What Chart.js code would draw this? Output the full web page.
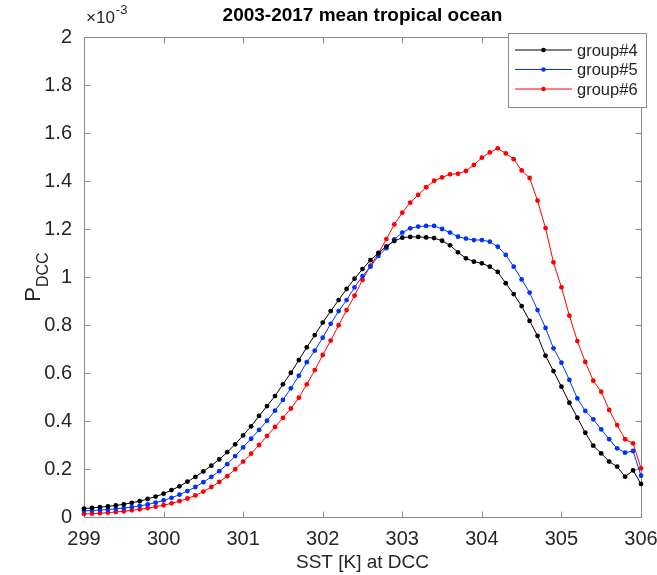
<!DOCTYPE html>
<html>
<head>
<meta charset="utf-8">
<script src="https://cdn.jsdelivr.net/npm/chart.js@4.4.1/dist/chart.umd.min.js"></script>
<style>
  body { margin: 0; background: #fff; }
  #wrap { width: 657px; height: 575px; }
</style>
</head>
<body>
<div id="wrap"><canvas id="pdfChart" width="657" height="575"></canvas></div>
<script>
// SST bins [K]
const sst = [
  299.0, 299.1, 299.2, 299.3, 299.4, 299.5, 299.6, 299.7, 299.8, 299.9,
  300.0, 300.1, 300.2, 300.3, 300.4, 300.5, 300.6, 300.7, 300.8, 300.9,
  301.0, 301.1, 301.2, 301.3, 301.4, 301.5, 301.6, 301.7, 301.8, 301.9,
  302.0, 302.1, 302.2, 302.3, 302.4, 302.5, 302.6, 302.7, 302.8, 302.9,
  303.0, 303.1, 303.2, 303.3, 303.4, 303.5, 303.6, 303.7, 303.8, 303.9,
  304.0, 304.1, 304.2, 304.3, 304.4, 304.5, 304.6, 304.7, 304.8, 304.9,
  305.0, 305.1, 305.2, 305.3, 305.4, 305.5, 305.6, 305.7, 305.8, 305.9,
  306.0
];

// P_DCC, in units of 1e-3
const group4 = [
  0.035, 0.038, 0.041, 0.044, 0.048, 0.053, 0.059, 0.066, 0.075, 0.085,
  0.097, 0.112, 0.128, 0.147, 0.167, 0.190, 0.214, 0.240, 0.270, 0.303,
  0.340, 0.378, 0.421, 0.462, 0.504, 0.553, 0.601, 0.654, 0.707, 0.758,
  0.810, 0.858, 0.904, 0.950, 0.993, 1.033, 1.070, 1.100, 1.128, 1.150,
  1.164, 1.167, 1.167, 1.165, 1.162, 1.151, 1.132, 1.103, 1.078, 1.064,
  1.057, 1.043, 1.021, 0.974, 0.929, 0.879, 0.817, 0.755, 0.672, 0.608,
  0.543, 0.476, 0.414, 0.351, 0.297, 0.265, 0.231, 0.210, 0.168, 0.194,
  0.138
];
const group5 = [
  0.026, 0.027, 0.029, 0.031, 0.034, 0.037, 0.041, 0.046, 0.052, 0.060,
  0.069, 0.080, 0.093, 0.108, 0.125, 0.145, 0.167, 0.191, 0.220, 0.254,
  0.290, 0.326, 0.363, 0.401, 0.443, 0.488, 0.536, 0.589, 0.645, 0.693,
  0.747, 0.805, 0.858, 0.904, 0.957, 1.004, 1.043, 1.088, 1.120, 1.157,
  1.185, 1.203, 1.210, 1.213, 1.213, 1.200, 1.185, 1.168, 1.160, 1.154,
  1.154, 1.147, 1.126, 1.092, 1.043, 0.990, 0.935, 0.862, 0.788, 0.703,
  0.643, 0.571, 0.494, 0.442, 0.407, 0.365, 0.324, 0.286, 0.268, 0.275,
  0.172
];
const group6 = [
  0.013, 0.014, 0.016, 0.018, 0.021, 0.024, 0.028, 0.032, 0.037, 0.043,
  0.049, 0.057, 0.066, 0.077, 0.090, 0.106, 0.125, 0.146, 0.170, 0.199,
  0.231, 0.264, 0.300, 0.338, 0.375, 0.413, 0.452, 0.497, 0.553, 0.612,
  0.675, 0.735, 0.799, 0.862, 0.922, 0.988, 1.047, 1.099, 1.158, 1.219,
  1.268, 1.310, 1.342, 1.374, 1.401, 1.415, 1.428, 1.430, 1.442, 1.467,
  1.497, 1.519, 1.536, 1.515, 1.491, 1.444, 1.413, 1.318, 1.204, 1.061,
  0.957, 0.839, 0.733, 0.646, 0.568, 0.522, 0.446, 0.383, 0.324, 0.307,
  0.203
];

const seriesNames = ['group#4', 'group#5', 'group#6'];
const seriesValues = [group4, group5, group6];
const seriesColors = ['#000000', '#0033ff', '#ff0000'];

const xTicks = [299, 300, 301, 302, 303, 304, 305, 306];
const yTicks = [0, 0.2, 0.4, 0.6, 0.8, 1, 1.2, 1.4, 1.6, 1.8, 2];

const FONT = "'Liberation Sans', Arial, sans-serif";
const TEXT = '#262626';
const AXIS = '#8a8a8a';

// box, inward ticks on all four sides
const framePlugin = {
  id: 'frame',
  beforeDatasetsDraw(chart) {
    const { ctx, chartArea: a, scales } = chart;
    const L = Math.round(a.left) + 0.5, R = Math.round(a.right) + 0.5;
    const T = Math.round(a.top) + 0.5, B = Math.round(a.bottom) + 0.5;
    const len = 6;
    ctx.save();
    ctx.strokeStyle = AXIS;
    ctx.lineWidth = 1;
    ctx.strokeRect(L, T, R - L, B - T);
    ctx.beginPath();
    scales.x.ticks.forEach(t => {
      const px = Math.round(scales.x.getPixelForValue(t.value)) + 0.5;
      ctx.moveTo(px, B); ctx.lineTo(px, B - len);
      ctx.moveTo(px, T); ctx.lineTo(px, T + len);
    });
    scales.y.ticks.forEach(t => {
      const py = Math.round(scales.y.getPixelForValue(t.value)) + 0.5;
      ctx.moveTo(L, py); ctx.lineTo(L + len, py);
      ctx.moveTo(R, py); ctx.lineTo(R - len, py);
    });
    ctx.stroke();
    ctx.restore();
  }
};

// title, exponent, y label, legend
const labelsPlugin = {
  id: 'labels',
  afterDraw(chart) {
    const { ctx, chartArea: a } = chart;
    ctx.save();
    ctx.fillStyle = '#000';
    ctx.textBaseline = 'alphabetic';

    // title
    ctx.font = `bold 19px ${FONT}`;
    ctx.textAlign = 'center';
    ctx.fillText('2003-2017 mean tropical ocean', (a.left + a.right) / 2, 21);

    // x10^-3
    ctx.fillStyle = TEXT;
    ctx.textAlign = 'left';
    ctx.font = `17px ${FONT}`;
    ctx.fillText('\u00d710', a.left + 2, 23);
    const w10 = ctx.measureText('\u00d710').width;
    ctx.font = `13px ${FONT}`;
    ctx.fillText('-3', a.left + 2 + w10 + 1, 14);

    // y label P_DCC
    ctx.save();
    ctx.translate(40, (a.top + a.bottom) / 2);
    ctx.rotate(-Math.PI / 2);
    ctx.font = `22px ${FONT}`;
    const wP = ctx.measureText('P').width;
    ctx.font = `16px ${FONT}`;
    const wD = ctx.measureText('DCC').width;
    const x0 = -(wP + wD) / 2;
    ctx.font = `22px ${FONT}`;
    ctx.fillText('P', x0, 0);
    ctx.font = `16px ${FONT}`;
    ctx.fillText('DCC', x0 + wP, 8);
    ctx.restore();

    // legend
    const bx = a.right - 133, by = a.top - 4, bw = 138, bh = 74;
    ctx.fillStyle = '#fff';
    ctx.fillRect(bx, by, bw, bh);
    ctx.strokeStyle = AXIS;
    ctx.lineWidth = 1;
    ctx.strokeRect(Math.round(bx) + 0.5, Math.round(by) + 0.5, bw, bh);
    ctx.font = `16.5px ${FONT}`;
    ctx.textBaseline = 'middle';
    chart.data.datasets.forEach((ds, i) => {
      const y = by + 17 + i * 19.5;
      ctx.strokeStyle = ds.borderColor;
      ctx.beginPath();
      ctx.moveTo(bx + 7, y); ctx.lineTo(bx + 64, y);
      ctx.stroke();
      ctx.fillStyle = ds.pointBackgroundColor;
      ctx.beginPath();
      ctx.arc(bx + 35.5, y, 2.3, 0, Math.PI * 2);
      ctx.fill();
      ctx.fillStyle = TEXT;
      ctx.fillText(ds.label, bx + 69, y + 1);
    });
    ctx.restore();
  }
};

const datasets = seriesNames.map((name, i) => ({
  label: name,
  data: sst.map((x, j) => ({ x: x, y: seriesValues[i][j] })),
  borderColor: seriesColors[i],
  backgroundColor: seriesColors[i],
  pointBackgroundColor: seriesColors[i],
  borderWidth: 1,
  pointRadius: 2.4,
  pointBorderWidth: 0,
  tension: 0,
  clip: false
}));

const ctx = document.getElementById('pdfChart').getContext('2d');
new Chart(ctx, {
  type: 'line',
  data: { datasets: datasets },
  options: {
    responsive: false,
    animation: false,
    layout: { padding: { top: 37, right: 16, left: 0, bottom: 0 } },
    plugins: {
      legend: { display: false },
      title: { display: false },
      tooltip: { enabled: false }
    },
    scales: {
      x: {
        type: 'linear',
        min: 299,
        max: 306,
        afterBuildTicks: s => { s.ticks = xTicks.map(v => ({ value: v })); },
        afterFit: s => { s.height = 58; s.paddingLeft = 0; s.paddingRight = 0; },
        grid: { display: false, drawTicks: false },
        border: { display: false },
        ticks: { padding: 10, color: TEXT, font: { family: FONT, size: 20 }, maxRotation: 0 },
        title: {
          display: true,
          text: 'SST [K] at DCC',
          color: TEXT,
          font: { family: FONT, size: 19 },
          padding: { top: 0, bottom: 1 }
        }
      },
      y: {
        min: 0,
        max: 2,
        afterBuildTicks: s => { s.ticks = yTicks.map(v => ({ value: v })); },
        afterFit: s => { s.width = 84; s.paddingTop = 0; s.paddingBottom = 0; },
        grid: { display: false, drawTicks: false },
        border: { display: false },
        ticks: {
          padding: 12,
          color: TEXT,
          font: { family: FONT, size: 20 },
          callback: v => String(+v.toFixed(1))
        }
      }
    }
  },
  plugins: [framePlugin, labelsPlugin]
});
</script>
</body>
</html>
